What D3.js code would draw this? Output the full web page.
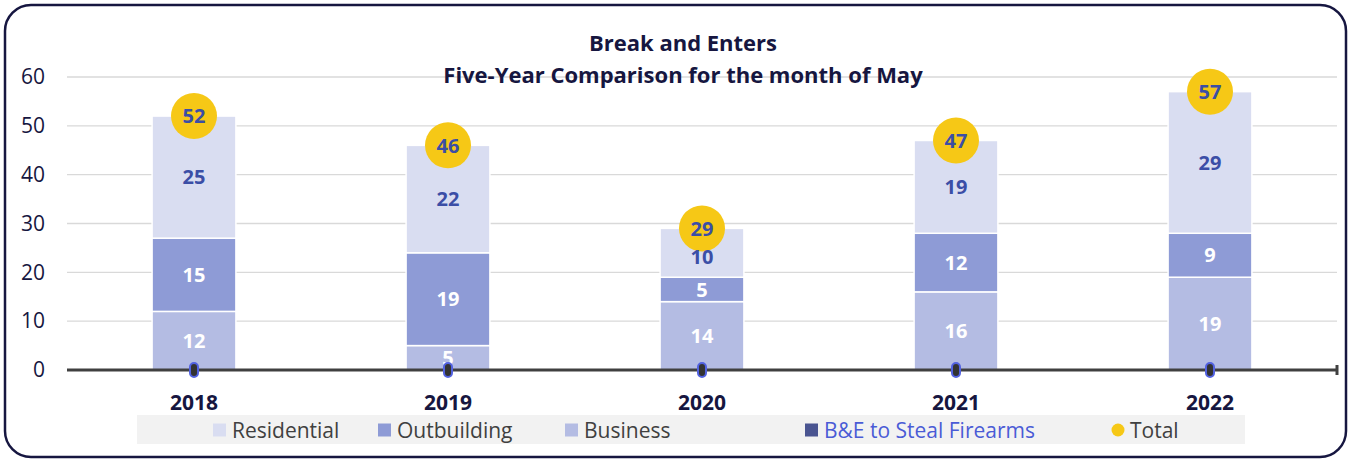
<!DOCTYPE html>
<html>
<head>
<meta charset="utf-8">
<script src="https://cdn.jsdelivr.net/npm/d3@7"></script>
<style>
  body { margin: 0; background: #fff; }
  svg { display: block; font-family: "Open Sans", sans-serif; }
</style>
</head>
<body>
<div class="canvas"></div>
<script>
// data
const years = ['2018', '2019', '2020', '2021', '2022'];
const business = [12, 5, 14, 16, 19];
const outbuilding = [15, 19, 5, 12, 9];
const residential = [25, 22, 10, 19, 29];
const firearms = [0, 0, 0, 0, 0];
const totals = [52, 46, 29, 47, 57];
const yTicks = [0, 10, 20, 30, 40, 50, 60];

const dims = { width: 1352, height: 460 };
const plot = { left: 67, right: 1337, top: 77, bottom: 370 };
const navy = '#161640';
const fs = 21;
const labelFs = 20;

const svg = d3.select('.canvas')
    .append('svg')
    .attr('width', dims.width)
    .attr('height', dims.height);

// outer frame
svg.append('rect')
    .attr('x', 5).attr('y', 5)
    .attr('width', 1341).attr('height', 452)
    .attr('rx', 26)
    .attr('fill', '#fff')
    .attr('stroke', navy)
    .attr('stroke-width', 2.5);

const x = d3.scaleBand()
    .domain(years)
    .range([plot.left, plot.right])
    .paddingInner(0.67)
    .paddingOuter(0.335);

const y = d3.scaleLinear()
    .domain([0, 60])
    .range([plot.bottom, plot.top]);

// gridlines
svg.append('g')
    .selectAll('line')
    .data(yTicks.filter(d => d > 0))
    .enter().append('line')
    .attr('x1', plot.left).attr('x2', plot.right)
    .attr('y1', d => y(d)).attr('y2', d => y(d))
    .attr('stroke', '#d9d9d9')
    .attr('stroke-width', 1.3);

// y labels
const yAxis = d3.axisLeft(y).tickValues(yTicks).tickSize(0).tickPadding(22);
svg.append('g')
    .attr('transform', `translate(${plot.left},0)`)
    .call(yAxis)
    .call(g => g.select('.domain').remove())
    .selectAll('text')
    .attr('font-size', fs)
    .attr('font-family', '"Open Sans", sans-serif')
    .attr('fill', navy);

// title
const title = svg.append('text')
    .attr('text-anchor', 'middle')
    .attr('font-weight', 'bold')
    .attr('font-size', 22)
    .attr('fill', navy);
title.append('tspan').attr('x', 683).attr('y', 51).text('Break and Enters');
title.append('tspan').attr('x', 683).attr('y', 83).text('Five-Year Comparison for the month of May');

// stacked bars
const rows = years.map((yr, i) => ({
    year: yr,
    business: business[i],
    outbuilding: outbuilding[i],
    residential: residential[i],
    total: totals[i]
}));
const keys = ['business', 'outbuilding', 'residential'];
const colors = { business: '#b4bce3', outbuilding: '#8e9bd6', residential: '#d9ddf1' };
const labelColors = { business: '#fff', outbuilding: '#fff', residential: '#3b4ea6' };

const stack = d3.stack().keys(keys)(rows);

const layers = svg.append('g')
    .selectAll('g')
    .data(stack)
    .enter().append('g');

layers.selectAll('rect')
    .data(d => d.map(p => ({ key: d.key, p })))
    .enter().append('rect')
    .attr('x', d => x(d.p.data.year))
    .attr('width', x.bandwidth())
    .attr('y', d => y(d.p[1]))
    .attr('height', d => y(d.p[0]) - y(d.p[1]))
    .attr('fill', d => colors[d.key])
    .attr('stroke', '#fff')
    .attr('stroke-width', 1.5);

// totals
const tot = svg.append('g')
    .selectAll('g')
    .data(totals)
    .enter().append('g')
    .attr('transform', (d, i) => `translate(${x(years[i]) + x.bandwidth() / 2},${y(d)})`);
tot.append('circle')
    .attr('r', 23)
    .attr('fill', '#f6c816');
tot.append('text')
    .attr('dy', '0.36em')
    .attr('text-anchor', 'middle')
    .attr('font-weight', 'bold')
    .attr('font-size', labelFs)
    .attr('fill', '#3b4ea6')
    .text(d => d);

// segment labels (kept clear of the total bubble)
svg.append('g')
    .selectAll('g')
    .data(stack)
    .enter().append('g')
    .selectAll('text')
    .data(d => d.map(p => ({ key: d.key, p })))
    .enter().append('text')
    .attr('x', d => x(d.p.data.year) + x.bandwidth() / 2)
    .attr('y', d => Math.max(y((d.p[0] + d.p[1]) / 2), y(d.p.data.total) + 28))
    .attr('dy', '0.36em')
    .attr('text-anchor', 'middle')
    .attr('font-weight', 'bold')
    .attr('font-size', labelFs)
    .attr('fill', d => labelColors[d.key])
    .text(d => d.p[1] - d.p[0]);

// x axis line
svg.append('line')
    .attr('x1', plot.left).attr('x2', plot.right)
    .attr('y1', y(0)).attr('y2', y(0))
    .attr('stroke', '#404040')
    .attr('stroke-width', 3);
svg.append('line')
    .attr('x1', plot.right).attr('x2', plot.right)
    .attr('y1', y(0) - 5).attr('y2', y(0) + 5)
    .attr('stroke', '#404040')
    .attr('stroke-width', 3);

// firearms series (all zero)
svg.append('g')
    .selectAll('rect')
    .data(firearms)
    .enter().append('rect')
    .attr('x', (d, i) => x(years[i]) + x.bandwidth() / 2 - 4)
    .attr('y', d => y(d) - 7)
    .attr('width', 8)
    .attr('height', 14)
    .attr('rx', 4)
    .attr('fill', '#333')
    .attr('stroke', '#5262e0')
    .attr('stroke-width', 2);

// x labels
svg.append('g')
    .selectAll('text')
    .data(years)
    .enter().append('text')
    .attr('x', d => x(d) + x.bandwidth() / 2)
    .attr('y', 410)
    .attr('text-anchor', 'middle')
    .attr('font-weight', 'bold')
    .attr('font-size', fs)
    .attr('fill', navy)
    .text(d => d);

// legend
svg.append('rect')
    .attr('x', 137).attr('y', 415)
    .attr('width', 1108).attr('height', 29)
    .attr('fill', '#f2f2f2');

const legendItems = [
    { name: 'Residential', color: '#d9ddf1', x: 213, text: '#404040', shape: 'rect' },
    { name: 'Outbuilding', color: '#8e9bd6', x: 378, text: '#404040', shape: 'rect' },
    { name: 'Business', color: '#b4bce3', x: 565, text: '#404040', shape: 'rect' },
    { name: 'B&E to Steal Firearms', color: '#4a5591', x: 805, text: '#4a5bd6', shape: 'rect' },
    { name: 'Total', color: '#f6c816', x: 1111, text: '#404040', shape: 'circle' }
];
const leg = svg.append('g')
    .selectAll('g')
    .data(legendItems)
    .enter().append('g')
    .attr('transform', d => `translate(${d.x},430)`);
leg.filter(d => d.shape === 'rect').append('rect')
    .attr('x', 0).attr('y', -6.5)
    .attr('width', 13).attr('height', 13)
    .attr('fill', d => d.color);
leg.filter(d => d.shape === 'circle').append('circle')
    .attr('cx', 7).attr('r', 6.5)
    .attr('fill', d => d.color);
leg.append('text')
    .attr('x', 19)
    .attr('dy', '0.36em')
    .attr('font-size', fs)
    .attr('fill', d => d.text)
    .text(d => d.name);
</script>
</body>
</html>
